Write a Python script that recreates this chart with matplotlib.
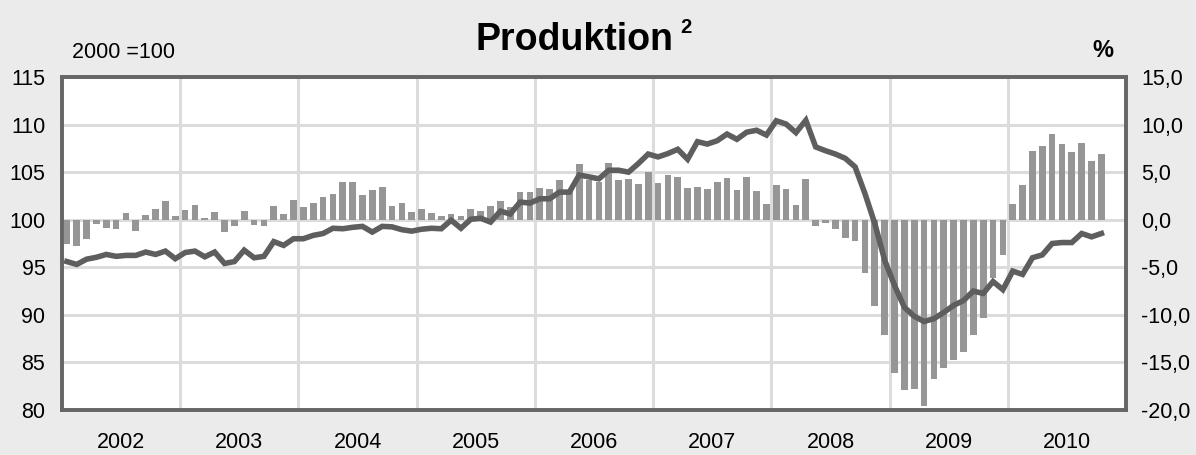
import matplotlib
matplotlib.use("Agg")
import matplotlib.pyplot as plt
from matplotlib.ticker import FixedLocator, FuncFormatter

plt.rcParams["font.family"] = ["Liberation Sans", "DejaVu Sans"]

years = ["2002", "2003", "2004", "2005", "2006", "2007", "2008", "2009", "2010"]

# monthly production index, 2000 = 100 (Jan 2002 - Oct 2010)
index_values = [
    95.6, 95.3, 95.85, 96.05, 96.35, 96.15, 96.25, 96.25, 96.6, 96.35, 96.7, 95.9,
    96.55, 96.7, 96.1, 96.6, 95.4, 95.6, 96.8, 96.0, 96.15, 97.7, 97.3, 98.0,
    98.0, 98.35, 98.55, 99.1, 99.05, 99.2, 99.3, 98.7, 99.3, 99.25, 98.95, 98.8,
    99.0, 99.1, 99.05, 99.95, 99.1, 100.05, 100.15, 99.75, 100.9, 100.6, 101.85, 101.75,
    102.2, 102.2, 102.9, 102.9, 104.7, 104.5, 104.3, 105.2, 105.2, 105.0, 105.9, 106.9,
    106.6, 106.95, 107.4, 106.35, 108.2, 107.95, 108.3, 109.0, 108.45, 109.2, 109.4, 108.9,
    110.4, 110.05, 109.15, 110.45, 107.65, 107.25, 106.9, 106.45, 105.55, 102.75, 99.6, 95.75,
    93.1, 90.8, 89.85, 89.3, 89.6, 90.25, 91.0, 91.5, 92.5, 92.25, 93.5, 92.65,
    94.6, 94.25, 96.0, 96.3, 97.5, 97.6, 97.6, 98.55, 98.2, 98.55,
]

# change on previous year, %
pct_change = [
    -2.6, -2.8, -2.0, -0.45, -0.85, -1.0, 0.7, -1.2, 0.5, 1.1, 1.95, 0.4,
    1.0, 1.5, 0.15, 0.8, -1.3, -0.65, 0.9, -0.55, -0.65, 1.45, 0.6, 2.05,
    1.3, 1.75, 2.35, 2.7, 3.95, 3.95, 2.6, 3.1, 3.4, 1.4, 1.75, 0.8,
    1.1, 0.7, 0.35, 0.6, 0.35, 1.1, 0.9, 1.4, 1.95, 1.3, 2.9, 2.9,
    3.3, 3.2, 4.15, 3.0, 5.85, 4.15, 3.95, 6.0, 4.15, 4.25, 3.75, 5.0,
    3.85, 4.7, 4.5, 3.3, 3.4, 3.2, 3.95, 4.4, 3.1, 4.5, 3.0, 1.6,
    3.6, 3.2, 1.5, 4.25, -0.65, -0.33, -0.95, -1.9, -2.2, -5.6, -9.05, -12.1,
    -16.1, -17.9, -17.8, -19.55, -16.7, -15.6, -14.75, -13.9, -12.1, -10.3, -6.1, -3.7,
    1.6, 3.6, 7.2, 7.7, 9.0, 7.95, 7.1, 8.05, 6.15, 6.9,
]

left_ticks = [80, 85, 90, 95, 100, 105, 110, 115]
right_ticks = [-20, -15, -10, -5, 0, 5, 10, 15]

months = list(range(len(index_values)))
n_months = 12 * len(years)

fig = plt.figure(figsize=(11.96, 4.55), dpi=100, facecolor="#EBEBEB")
ax2 = fig.add_axes([0.0518, 0.0989, 0.8897, 0.7319])
ax = ax2.twinx()
ax.set_zorder(ax2.get_zorder() + 1)
ax.patch.set_visible(False)
ax2.set_facecolor("white")

# bars (% change), right axis
ax2.bar(months, pct_change, width=0.68, color="#969696", zorder=2)
ax2.set_ylim(-20, 15)
ax2.set_xlim(-0.5, n_months - 0.5)

# line (index), left axis
ax.plot(months, index_values, color="#5E5E5E", linewidth=4.0,
        solid_joinstyle="miter", zorder=3)
ax.set_ylim(80, 115)

# swap sides so the index scale sits on the left
ax2.yaxis.tick_right()
ax.yaxis.tick_left()
ax2.set_yticks(right_ticks)
ax2.yaxis.set_major_formatter(FuncFormatter(lambda v, p: f"{v:.1f}".replace(".", ",")))
ax.set_yticks(left_ticks)

# x: gridlines at year boundaries, labels centred in each year
boundaries = [12 * k - 0.5 for k in range(1, len(years))]
centres = [12 * k + 5.5 for k in range(len(years))]
ax2.xaxis.set_major_locator(FixedLocator(boundaries))
ax2.xaxis.set_minor_locator(FixedLocator(centres))
ax2.set_xticklabels([""] * len(boundaries))
ax2.set_xticklabels(years, minor=True)
ax2.tick_params(axis="x", which="both", length=0)
ax2.tick_params(axis="x", which="minor", labelsize=15.5, pad=16)

ax2.grid(True, axis="both", which="major", color="#DCDCDC", linewidth=2.2, zorder=0)
ax2.set_axisbelow(True)

ax.tick_params(axis="y", length=0, labelsize=15.5, pad=12)
ax2.tick_params(axis="y", length=0, labelsize=15.5, pad=11)

for a in (ax, ax2):
    for s in a.spines.values():
        s.set_color("#666666")
        s.set_linewidth(2.6)

fig.text(0.4805, 0.891, "Produktion", fontsize=27, fontweight="bold",
         ha="center", va="baseline")
fig.text(0.5685, 0.928, "2", fontsize=14.5, fontweight="bold",
         ha="left", va="baseline")
fig.text(0.0602, 0.8725, "2000 =100", fontsize=15.5, ha="left", va="baseline")
fig.text(0.9223, 0.8745, "%", fontsize=17, fontweight="bold", ha="center",
         va="baseline")

fig.savefig("out.png", dpi=100, facecolor=fig.get_facecolor())
